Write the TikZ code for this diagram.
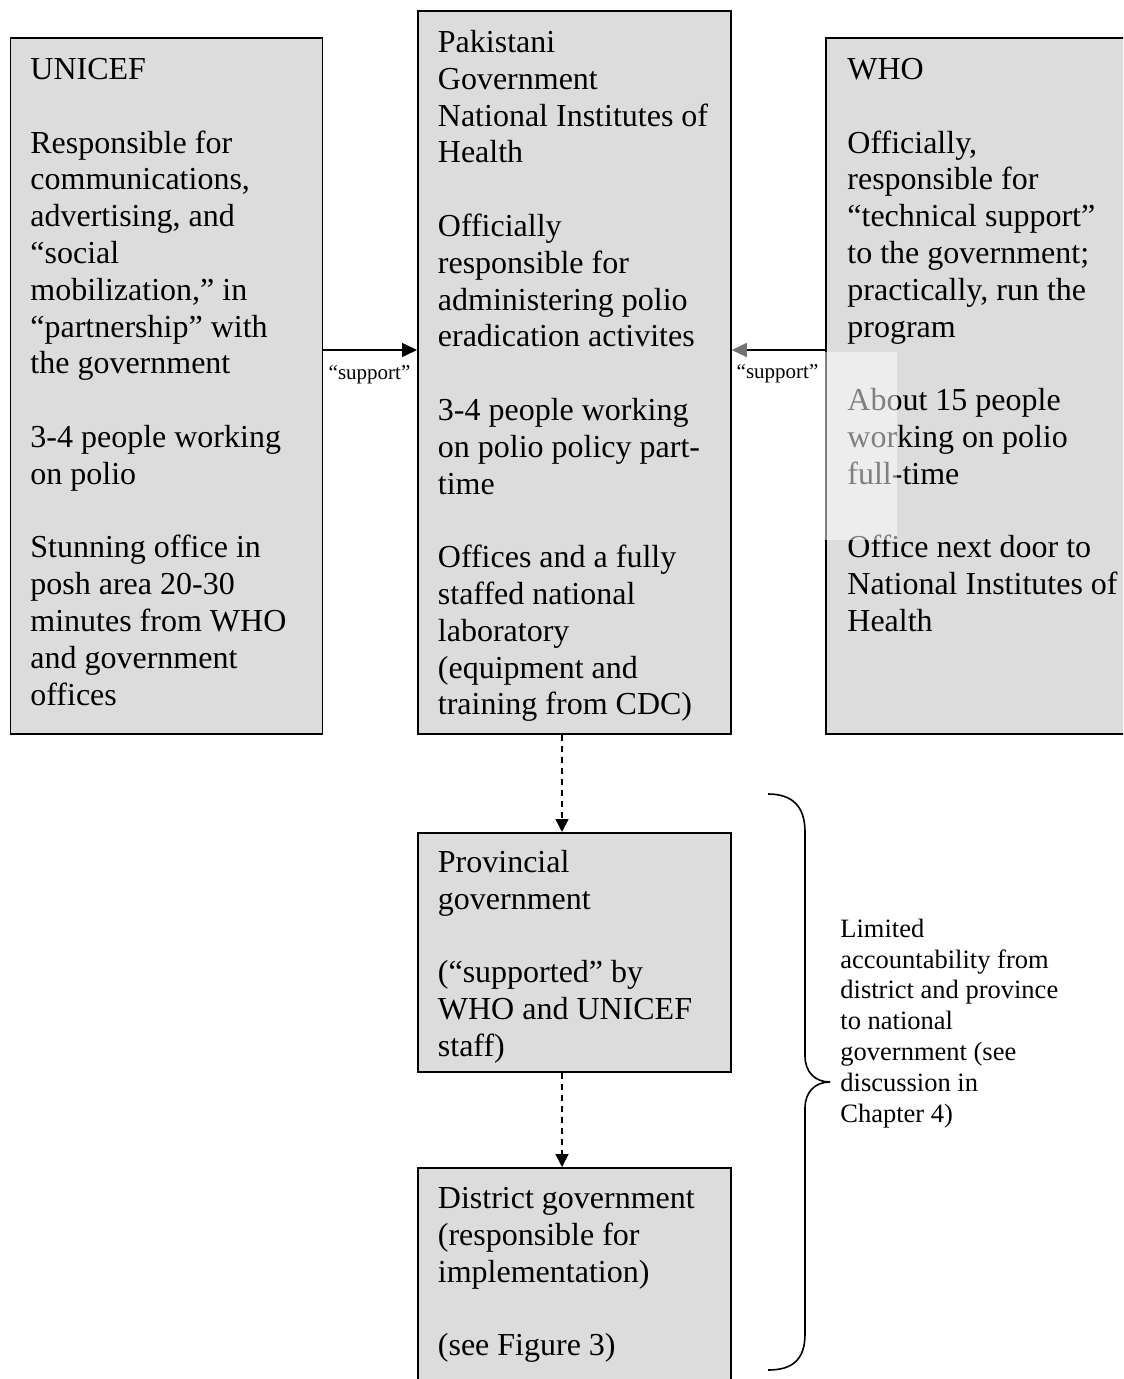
\documentclass[tikz,border=0pt]{standalone}
\usepackage{fontspec}
\setmainfont{Liberation Serif}
\usetikzlibrary{arrows.meta}
\definecolor{boxgray}{RGB}{220,220,220}
\tikzset{
  orgbox/.style={draw=black, line width=0.9pt, fill=boxgray, anchor=north west, inner sep=0pt},
  boxtext/.style={anchor=north west, inner sep=0pt, align=left, font=\fontsize{16}{18.4}\selectfont},
  notetext/.style={anchor=north west, inner sep=0pt, align=left, font=\fontsize{13.25}{15.4}\selectfont},
  arrlabel/.style={font=\fontsize{10.5}{12}\selectfont, anchor=base, inner sep=0pt},
  solidarrow/.style={line width=0.8pt, -{Triangle[length=7.5pt,width=7pt]}},
  greyarrow/.style={line width=0.8pt, -{Triangle[length=7.5pt,width=7pt,color=black!55]}},
  dasharrow/.style={line width=0.8pt, dash pattern=on 3pt off 2.5pt, -{Triangle[length=6.5pt,width=6.5pt]}},
  bracestyle/.style={line width=0.8pt},
}
\begin{document}
\begin{tikzpicture}[x=0.5pt,y=-0.5pt]
\useasboundingbox (0,0) rectangle (1123,1379);
\clip (0,0) rectangle (1123,1379);
\fill[white] (0,0) rectangle (1123,1379);

% boxes
\node[orgbox, minimum width=156pt, minimum height=348pt] (unicef) at (9.5,37) {};
\node[orgbox, minimum width=156.5pt, minimum height=361.5pt] (nih) at (417,10) {};
\node[orgbox, minimum width=160pt, minimum height=348pt] (who) at (825,37) {};
\node[orgbox, minimum width=156.5pt, minimum height=119.5pt] (prov) at (417,832) {};
\node[orgbox, minimum width=156.5pt, minimum height=120pt] (dist) at (417,1167) {};

% box texts
\node[boxtext] (unicefT) at ([shift={(20.5,16.24)}]unicef.north west) {\strut UNICEF\\[18.4pt]
Responsible for\\ communications,\\ advertising, and\\ “social\\ mobilization,” in\\ “partnership” with\\ the government\\[18.4pt]
3-4 people working\\ on polio\\[18.4pt]
Stunning office in\\ posh area 20-30\\ minutes from WHO\\ and government\\ offices};

\node[boxtext] (nihT) at ([shift={(20.5,16.24)}]nih.north west) {\strut Pakistani\\ Government\\ National Institutes of\\ Health\\[18.4pt]
Officially\\ responsible for\\ administering polio\\ eradication activites\\[18.4pt]
3-4 people working\\ on polio policy part-\\ time\\[18.4pt]
Offices and a fully\\ staffed national\\ laboratory\\ (equipment and\\ training from CDC)};

\node[boxtext] (whoT) at ([shift={(22,16.24)}]who.north west) {\strut WHO\\[18.4pt]
Officially,\\ responsible for\\ “technical support”\\ to the government;\\ practically, run the\\ program\\[18.4pt]
About 15 people\\ working on polio\\ full-time\\[18.4pt]
Office next door to\\ National Institutes of\\ Health};

\node[boxtext] (provT) at ([shift={(20.5,14.24)}]prov.north west) {\strut Provincial\\ government\\[18.4pt]
(“supported” by\\ WHO and UNICEF\\ staff)};

\node[boxtext] (distT) at ([shift={(20.5,15.24)}]dist.north west) {\strut District government\\ (responsible for\\ implementation)\\[18.4pt]
(see Figure 3)};

% overlay patch
\fill[white, opacity=0.5] (823,352) rectangle (897,540);

% connectors
\coordinate (ay) at (0,350);
\coordinate (dx) at (562,0);
\draw[solidarrow] (unicef.east |- ay) -- (nih.west |- ay);
\draw[greyarrow] (who.west |- ay) -- (nih.east |- ay);
\node[arrlabel] (lab1) at (369.5,380) {“support”};
\node[arrlabel] (lab2) at (777.5,379) {“support”};
\draw[dasharrow] (nih.south -| dx) -- (prov.north -| dx);
\draw[dasharrow] (prov.south -| dx) -- (dist.north -| dx);

% brace
\draw[bracestyle] (768,794) .. controls (792,794) and (805,806) .. (805,832) -- (805,1056)
  .. controls (805,1072) and (815,1082) .. (830,1082)
  .. controls (815,1082) and (805,1092) .. (805,1108) -- (805,1334)
  .. controls (805,1360) and (792,1370) .. (768,1370);

\node[notetext] (note) at (840,915.4) {\strut Limited\\ accountability from\\ district and province\\ to national\\ government (see\\ discussion in\\ Chapter 4)};
\end{tikzpicture}
\end{document}
